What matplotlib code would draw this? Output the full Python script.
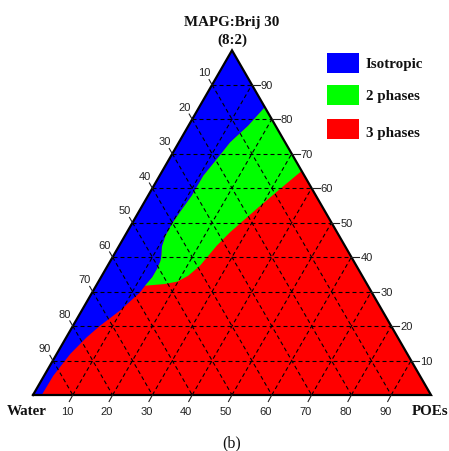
import numpy as np
import matplotlib.pyplot as plt
from matplotlib.patches import Polygon, Rectangle

# phase boundaries, percent MAPG:Brij 30 (top) and POEs (right); water is the rest
iso_2ph_mapg = [83.5, 78.1, 73.3, 69.0, 63.6, 57.8, 53.0, 49.6, 46.2, 43.0, 40.6, 38.9, 36.6, 34.2, 31.7]
iso_2ph_poes = [16.5, 15.0, 12.9, 12.1, 11.0, 11.0, 10.4, 10.1, 10.2, 10.9, 12.0, 12.6, 12.9, 12.9, 12.3]

two_three_mapg = [31.7, 32.2, 32.9, 34.6, 37.5, 43.3, 47.2, 54.0, 59.8, 65.0]
two_three_poes = [12.3, 17.0, 19.8, 21.7, 23.2, 24.5, 25.9, 29.2, 32.2, 35.0]

iso_3ph_mapg = [31.7, 29.8, 24.5, 20.1, 16.7, 11.9, 5.6, 0.0]
iso_3ph_poes = [12.3, 12.0, 9.6, 6.8, 5.1, 3.4, 2.3, 2.2]

ticks = [10, 20, 30, 40, 50, 60, 70, 80, 90]
phase_names = ['Isotropic', '2 phases', '3 phases']
phase_colors = ['#0000ff', '#00ff00', '#ff0000']

S3 = np.sqrt(3) / 2
PX = 1 / 398.0  # one pixel in data units


def tern(mapg, poes):
    m = np.asarray(mapg) / 100.0
    p = np.asarray(poes) / 100.0
    return p + m / 2, m * S3


fig = plt.figure(figsize=(4.49, 4.52), dpi=100)
ax = fig.add_axes([0, 0, 1, 1])
ax.set_xlim(-33 * PX, 416 * PX)
ax.set_ylim(-56 * PX, 396 * PX)
ax.axis('off')

# 3 phase region fills the whole triangle, the others are drawn over it
ax.add_patch(Polygon([[0, 0], [1, 0], [0.5, S3]], closed=True, fc=phase_colors[2], ec='none', zorder=1))

bx, by = tern(iso_2ph_mapg, iso_2ph_poes)
rx, ry = tern(iso_3ph_mapg, iso_3ph_poes)
blue_pts = [[0.5, S3]] + list(zip(bx, by)) + list(zip(rx[1:], ry[1:])) + [[0, 0]]
ax.add_patch(Polygon(blue_pts, closed=True, fc=phase_colors[0], ec='none', zorder=2))

gx, gy = tern(two_three_mapg, two_three_poes)
green_pts = list(zip(bx, by)) + list(zip(gx[1:], gy[1:]))
ax.add_patch(Polygon(green_pts, closed=True, fc=phase_colors[1], ec='none', zorder=2))

# dashed grid
gkw = dict(color='black', lw=0.8, dashes=(3.6, 2.7), zorder=3)
for t in ticks:
    f = t / 100.0
    # constant MAPG
    ax.plot([f / 2, 1 - f / 2], [f * S3, f * S3], **gkw)
    # constant POEs
    ax.plot([f, f + (1 - f) / 2], [0, (1 - f) * S3], **gkw)
    # constant water
    ax.plot([(1 - f) / 2, 1 - f], [(1 - f) * S3, 0], **gkw)

ax.plot([0, 1, 0.5, 0], [0, 0, S3, 0], color='black', lw=1.6, zorder=4, solid_joinstyle='miter')

# ticks and tick labels
tkw = dict(color='#222222', lw=0.8, zorder=4)
lab = dict(family='Liberation Sans', fontsize=8, color='#222222')
for t in ticks:
    f = t / 100.0
    # left side: water
    x0, y0 = (1 - f) / 2, (1 - f) * S3
    ax.plot([x0, x0 - 3 * PX], [y0, y0 + 5.2 * PX], **tkw)
    ax.text(x0 - 8 * PX, y0 + 12.5 * PX, str(t), ha='center', va='center', **lab)
    # right side: MAPG
    x0, y0 = 1 - f / 2, f * S3
    ax.plot([x0, x0 + 8 * PX], [y0, y0], **tkw)
    ax.text(x0 + 9 * PX, y0, str(t), ha='left', va='center', **lab)
    # bottom: POEs
    x0, y0 = f, 0
    ax.plot([x0, x0 - 3.5 * PX], [y0, y0 - 6.5 * PX], **tkw)
    ax.text(x0 - 6 * PX, y0 - 16 * PX, str(t), ha='center', va='center', **lab)

bold = dict(family='Liberation Serif', fontweight='bold', fontsize=10.8, color='#111111')
ax.text(0.5, 370 * PX, 'MAPG:Brij 30', ha='center', va='baseline', **bold)
ax.text(0.5, 352 * PX, '(8:2)', ha='center', va='baseline', **bold)
ax.text(-26 * PX, -19 * PX, 'Water', ha='left', va='baseline', **bold)
ax.text(378.5 * PX, -19 * PX, 'POEs', ha='left', va='baseline', **bold)
ax.text(0.5, -51 * PX, '(b)', ha='center', va='baseline', family='Liberation Serif',
        fontsize=11.5, color='#111111')

# legend
legend_top = [54.3, 85.7, 120.0]
legend_base = [67.7, 100.0, 136.7]
for name, col, top, base in zip(phase_names, phase_colors, legend_top, legend_base):
    ax.add_patch(Rectangle((294 * PX, (396 - top - 20) * PX), 32.5 * PX, 20 * PX,
                           fc=col, ec='none', zorder=5))
    ax.text(333 * PX, (396 - base) * PX, name, ha='left', va='baseline', **bold)

fig.savefig('out.png', dpi=100)
